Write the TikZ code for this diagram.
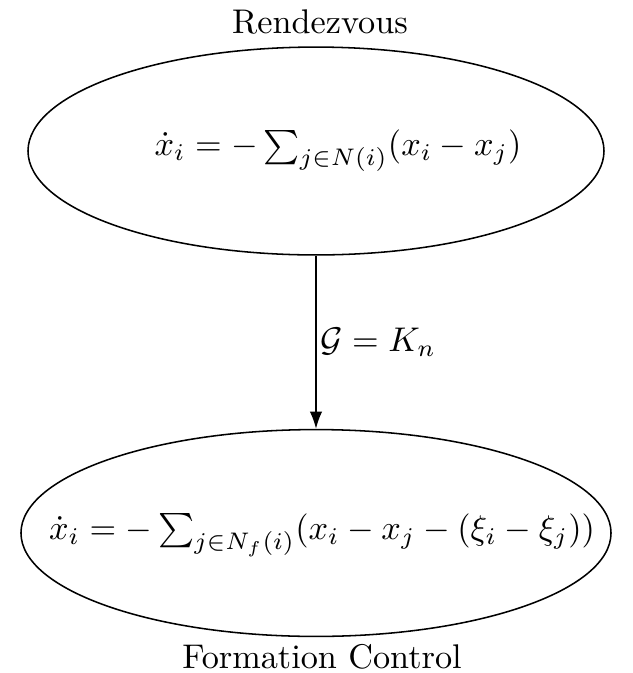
\documentclass[tikz,border=0pt]{standalone}
\usetikzlibrary{shapes.geometric,arrows.meta}
\begin{document}
\begin{tikzpicture}[x=0.292pt,y=-0.292pt,
  state/.style={draw,ellipse,inner sep=0pt,line width=0.45pt},
  title/.style={inner sep=0pt}]
\useasboundingbox (0,0) rectangle (633,673);
\node[state,minimum width=168.2pt,minimum height=60.7pt] (top) at (316,151) {};
\node[state,minimum width=172.3pt,minimum height=60.4pt] (bot) at (316,533) {};
\node[title] (f1) at (338,151) {$\dot x_i = -\sum_{j\in N(i)}(x_i - x_j)$};
\node[title] (f2) at (322,535) {$\dot x_i = -\sum_{j\in N_f(i)}(x_i - x_j - (\xi_i - \xi_j))$};
\node[title] (t1) at (320,22) {Rendezvous};
\node[title] (t2) at (322,657) {Formation Control};
\draw[line width=0.45pt,-{Latex[length=5pt,width=3.6pt]}] (top.south) -- node[right,inner sep=1pt] (lab) {$\mathcal{G} = K_n$} (bot.north);
\end{tikzpicture}
\end{document}
